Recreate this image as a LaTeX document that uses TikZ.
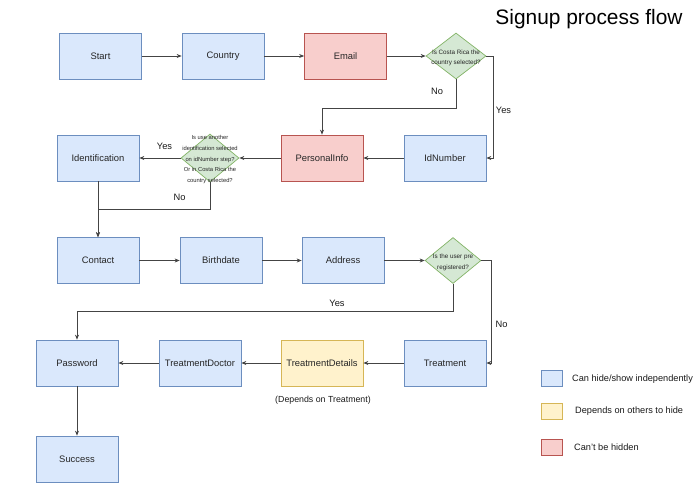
\documentclass[tikz,border=0pt]{standalone}
\usepackage{fontspec}
\setmainfont{Liberation Sans}
\usetikzlibrary{arrows.meta,shapes.geometric}
\definecolor{bluefill}{HTML}{DAE8FC}
\definecolor{bluedraw}{HTML}{6C8EBF}
\definecolor{redfill}{HTML}{F8CECC}
\definecolor{reddraw}{HTML}{B85450}
\definecolor{yelfill}{HTML}{FFF2CC}
\definecolor{yeldraw}{HTML}{D6B656}
\definecolor{grnfill}{HTML}{D5E8D4}
\definecolor{grndraw}{HTML}{82B366}
\definecolor{linecol}{HTML}{444444}
\tikzset{
  basebox/.style={rectangle, draw, line width=0.7pt, minimum width=82pt, minimum height=46pt, inner sep=0pt, font=\fontsize{9.4}{11}\selectfont, text=black!85},
  bluebox/.style={basebox, fill=bluefill, draw=bluedraw},
  redbox/.style={basebox, fill=redfill, draw=reddraw},
  yelbox/.style={basebox, fill=yelfill, draw=yeldraw},
  decision/.style={diamond, draw=grndraw, fill=grnfill, line width=0.7pt, inner sep=0pt},
  dtext/.style={align=center, font=\fontsize{6.3}{10.6}\selectfont, text=black!85, inner sep=0pt},
  dtextsmall/.style={align=center, font=\fontsize{5.8}{10.7}\selectfont, text=black!85, inner sep=0pt},
  lbl/.style={font=\fontsize{9.3}{11}\selectfont, text=black!90, inner sep=0pt},
  legtext/.style={font=\fontsize{9.2}{11}\selectfont, text=black!90, inner sep=0pt, anchor=west},
  legbox/.style={rectangle, line width=0.7pt, minimum width=21pt, minimum height=16pt, inner sep=0pt},
  arr/.style={draw=linecol, line width=0.75pt, -{Stealth[length=5pt,width=4pt]}},
  ln/.style={draw=linecol, line width=0.75pt}
}
\begin{document}
\begin{tikzpicture}[x=1pt,y=-1pt]
\useasboundingbox (0,0) rectangle (700,493);
% title
\node[font=\fontsize{20.9}{24}\selectfont, inner sep=0pt] (title) at (589,19) {Signup process flow};
% row 1
\node[bluebox] (start) at (100.5,56) {Start};
\node[bluebox] (country) at (223,56) {Country};
\node[redbox] (email) at (345.5,56) {Email};
\node[decision, minimum width=60pt, minimum height=46pt] (d1) at (456,56) {};
\node[dtext] (d1t) at (456,58) {Is Costa Rica the\\country selected?};
% row 2
\node[bluebox] (ident) at (98,158) {Identification};
\node[decision, minimum width=58pt, minimum height=48pt] (d2) at (210,158) {};
\node[dtextsmall] (d2t) at (210,159.5) {Is use another\\identification selected\\on idNumber step?\\Or in Costa Rica the\\country selected?};
\node[redbox] (pinfo) at (322,158) {PersonalInfo};
\node[bluebox] (idn) at (445,158) {IdNumber};
% row 3
\node[bluebox] (contact) at (98,260.5) {Contact};
\node[bluebox] (birth) at (221,260.5) {Birthdate};
\node[bluebox] (addr) at (343,260.5) {Address};
\node[decision, minimum width=56pt, minimum height=46pt] (d3) at (453,260.5) {};
\node[dtext] (d3t) at (453,262.5) {Is the user pre\\registered?};
% row 4
\node[bluebox] (pwd) at (77,363) {Password};
\node[bluebox] (tdoc) at (200,363) {TreatmentDoctor};
\node[yelbox] (tdet) at (322,363) {TreatmentDetails};
\node[bluebox] (treat) at (445,363) {Treatment};
\node[lbl, font=\fontsize{8.8}{11}\selectfont] (dep) at (323,400) {(Depends on Treatment)};
\node[bluebox] (succ) at (77,459) {Success};
% connectors
\draw[arr] (start) -- (country);
\draw[arr] (country) -- (email);
\draw[arr] (email) -- (d1.west);
\draw[arr] (d1.east) -- ++(7,0) |- (idn.east);
\draw[arr] (d1.south) -- ++(0,29) -| (pinfo.north);
\draw[arr] (idn) -- (pinfo);
\draw[arr] (pinfo) -- (d2.east);
\draw[arr] (d2.west) -- (ident.east);
\draw[arr] (ident) -- (contact);
\draw[arr] (d2.south) -- ++(0,27) -| (contact.north);
\draw[arr] (contact) -- (birth);
\draw[arr] (birth) -- (addr);
\draw[arr] (addr) -- (d3.west);
\draw[arr] (d3.south) -- ++(0,28) -| (pwd.north);
\draw[arr] (d3.east) -- ++(10,0) |- (treat.east);
\draw[arr] (treat) -- (tdet);
\draw[arr] (tdet) -- (tdoc);
\draw[arr] (tdoc) -- (pwd);
\draw[arr] (pwd) -- (succ);
% edge labels
\node[lbl] (no1) at (437,91) {No};
\node[lbl] (yes1) at (503.5,110) {Yes};
\node[lbl] (yes2) at (164.5,146) {Yes};
\node[lbl] (no2) at (179.5,197) {No};
\node[lbl] (yes3) at (337,303) {Yes};
\node[lbl] (no3) at (501.5,324) {No};
% legend
\node[legbox, fill=bluefill, draw=bluedraw] (lb1) at (552,378) {};
\node[legbox, fill=yelfill, draw=yeldraw] (lb2) at (552,411) {};
\node[legbox, fill=redfill, draw=reddraw] (lb3) at (552,447) {};
\node[legtext] (lt1) at (572,379.5) {Can hide/show independently};
\node[legtext] (lt2) at (575,411.5) {Depends on others to hide};
\node[legtext] (lt3) at (574,447) {Can't be hidden};
\end{tikzpicture}
\end{document}
